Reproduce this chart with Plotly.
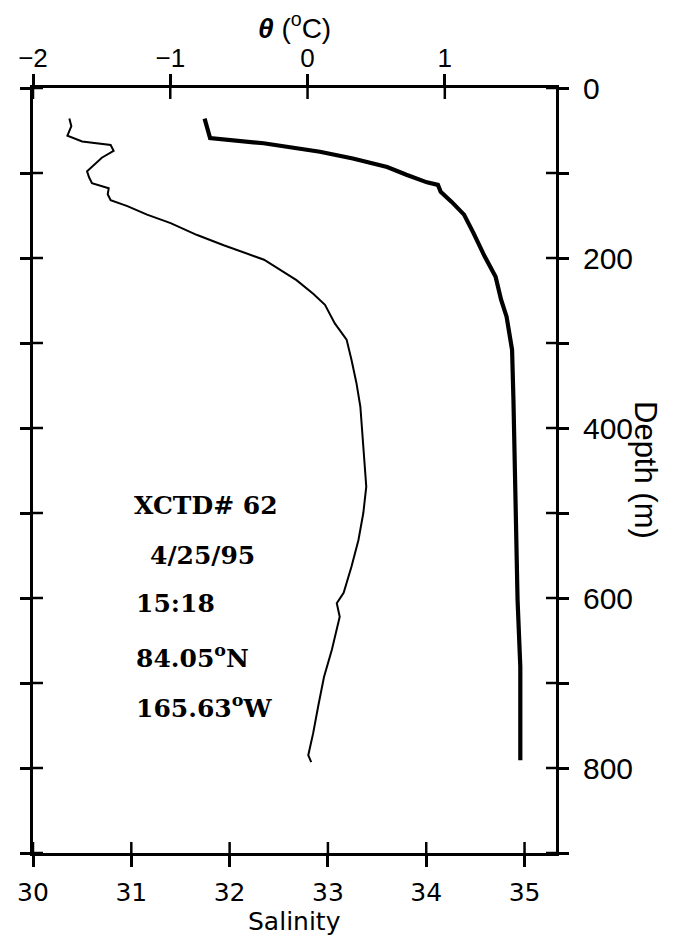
import plotly.graph_objects as go

# ---- data ----
sal_depth = [36, 45, 56, 63, 67, 74, 82, 90, 98, 105, 112, 118, 125, 132, 139, 149, 159, 173, 185, 202,
             214, 226, 242, 255, 277, 296, 320, 347, 375, 406, 438, 469, 500, 532, 563, 594, 606, 622,
             661, 693, 728, 759, 785, 793]
salinity = [30.37, 30.39, 30.35, 30.50, 30.79, 30.82, 30.70, 30.62, 30.55, 30.57, 30.60, 30.77, 30.76, 30.79, 30.96,
            31.16, 31.40, 31.67, 31.94, 32.35, 32.52, 32.68, 32.85, 32.97, 33.07, 33.19, 33.24, 33.29,
            33.33, 33.35, 33.37, 33.39, 33.36, 33.31, 33.24, 33.16, 33.09, 33.12, 33.04, 32.96, 32.90,
            32.85, 32.80, 32.83]

theta_depth = [36, 57, 59, 65, 71, 75, 83, 93, 102, 111, 114, 122, 134, 149, 171, 198, 222, 249, 269,
               308, 367, 446, 524, 602, 681, 791]
theta = [-0.75, -0.72, -0.71, -0.32, -0.08, 0.09, 0.33, 0.58, 0.72, 0.87, 0.95, 0.97, 1.05, 1.14, 1.21,
         1.29, 1.37, 1.41, 1.45, 1.49, 1.50, 1.51, 1.52, 1.53, 1.55, 1.55]

sal_ticks = [30, 31, 32, 33, 34, 35]
theta_ticks = [-2, -1, 0, 1]
theta_ticktext = ["\u22122", "\u22121", "0", "1"]
depth_ticks = [0, 100, 200, 300, 400, 500, 600, 700, 800, 900]
depth_ticktext = ["0", "", "200", "", "400", "", "600", "", "800", ""]

info_lines = ["XCTD# 62", "4/25/95", "15:18", "84.05<sup>o</sup>N", "165.63<sup>o</sup>W"]

# ---- figure ----
W, H = 678, 940
ML, MR, MT, MB = 33, 122, 88, 87
PW, PH = W - ML - MR, H - MT - MB

def px(xp):
    return (xp - ML) / PW

def py(yp):
    return (H - MB - yp) / PH

SAL_RANGE = [30, 35.32]
TH_RANGE = [-2, 1.81]
D_RANGE = [900, 0]
TL = 11
TW = 2.5
LW = 3

fig = go.Figure()
fig.add_trace(go.Scatter(x=salinity, y=sal_depth, mode="lines", xaxis="x", yaxis="y",
                         line=dict(color="black", width=2), showlegend=False, hoverinfo="skip"))
fig.add_trace(go.Scatter(x=theta, y=theta_depth, mode="lines", xaxis="x2", yaxis="y",
                         line=dict(color="black", width=4.2), showlegend=False, hoverinfo="skip"))

common = dict(showgrid=False, zeroline=False, fixedrange=True, automargin=False)

fig.update_layout(
    width=W, height=H,
    margin=dict(l=ML, r=MR, t=MT, b=MB, pad=0, autoexpand=False),
    paper_bgcolor="white", plot_bgcolor="white",
    xaxis=dict(range=SAL_RANGE, tickmode="array", tickvals=sal_ticks, ticks="outside",
               ticklen=TL, tickwidth=TW, tickcolor="black", showline=True, linewidth=LW,
               linecolor="black", side="bottom", anchor="y",
               tickfont=dict(family="DejaVu Sans", size=25, color="black"),
               ticklabelstandoff=4, **common),
    xaxis2=dict(range=TH_RANGE, tickmode="array", tickvals=theta_ticks, ticktext=theta_ticktext,
                ticks="outside", ticklen=TL, tickwidth=TW, tickcolor="black", showline=True,
                linewidth=LW, linecolor="black", side="top", anchor="y", overlaying="x",
                tickfont=dict(family="Liberation Sans", size=26, color="black"),
                ticklabelstandoff=-3, **common),
    yaxis=dict(range=D_RANGE, tickmode="array", tickvals=depth_ticks, ticktext=depth_ticktext,
               ticks="outside", ticklen=10, tickwidth=TW, tickcolor="black", showline=True,
               linewidth=LW, linecolor="black", side="right", anchor="x", mirror="ticks",
               tickfont=dict(family="Liberation Sans", size=30, color="black"),
               ticklabelstandoff=8, **common),
)

# inner halves of the crossing ticks, placed through the axes' own scales
shapes = []
for v in sal_ticks:
    shapes.append(dict(type="line", xref="x", yref="paper", x0=v, x1=v, y0=0, y1=TL / PH,
                       line=dict(color="black", width=TW), layer="above"))
for v in theta_ticks:
    shapes.append(dict(type="line", xref="x2", yref="paper", x0=v, x1=v, y0=1 - TL / PH, y1=1,
                       line=dict(color="black", width=TW), layer="above"))
for v in depth_ticks:
    shapes.append(dict(type="line", xref="paper", yref="y", x0=0, x1=10 / PW, y0=v, y1=v,
                       line=dict(color="black", width=TW), layer="above"))
    shapes.append(dict(type="line", xref="paper", yref="y", x0=1 - 10 / PW, x1=1, y0=v, y1=v,
                       line=dict(color="black", width=TW), layer="above"))
fig.update_layout(shapes=shapes)

annotations = [
    dict(text="<b><i>\u03b8</i></b> (<sup>o</sup>C)", x=0.5, y=py(26), xref="paper", yref="paper",
         xanchor="center", yanchor="middle", showarrow=False,
         font=dict(family="Liberation Sans", size=28, color="black")),
    dict(text="Salinity", x=0.5, y=py(922), xref="paper", yref="paper",
         xanchor="center", yanchor="middle", showarrow=False,
         font=dict(family="DejaVu Sans", size=25, color="black")),
    dict(text="Depth (m)", x=px(646), y=py(470), xref="paper", yref="paper",
         xanchor="center", yanchor="middle", showarrow=False, textangle=90,
         font=dict(family="Liberation Sans", size=31, color="black")),
]
info_x = [132, 148, 134, 134, 134]
info_y = [505, 555, 603, 656, 706]
for t, xx, yy in zip(info_lines, info_x, info_y):
    annotations.append(dict(text="<b>" + t + "</b>", x=px(xx), y=py(yy), xref="paper", yref="paper",
                            xanchor="left", yanchor="middle", showarrow=False,
                            font=dict(family="DejaVu Serif", size=25, color="black")))
fig.update_layout(annotations=annotations)

fig.write_html("out.html", config={"displayModeBar": False},
               post_script="document.body.style.margin='0';document.body.style.padding='0';")
